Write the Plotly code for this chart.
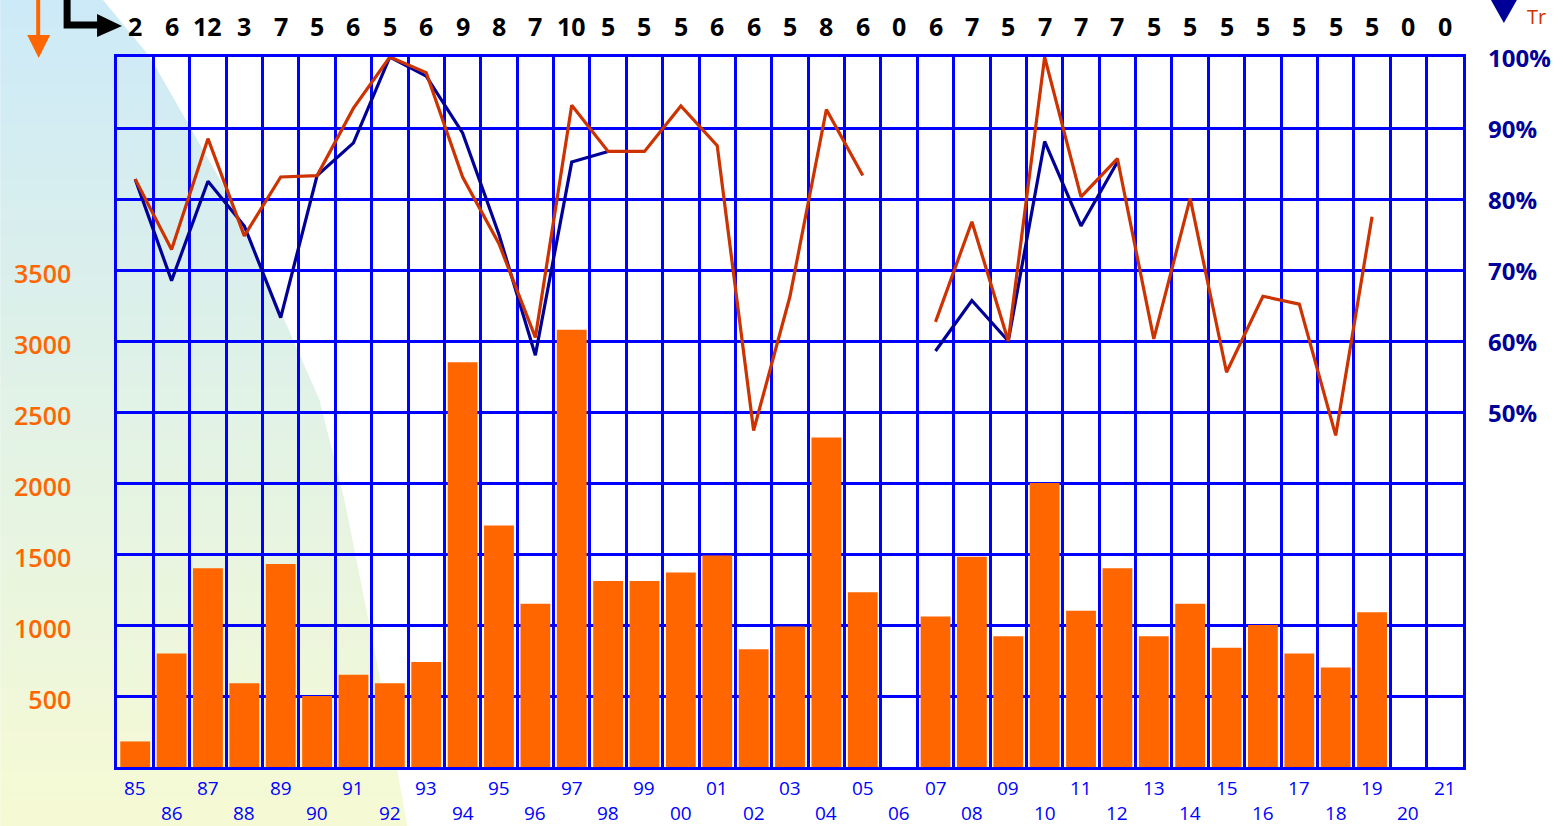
import numpy as np
import plotly.graph_objects as go

# ---------------- data ----------------
years = ["85", "86", "87", "88", "89", "90", "91", "92", "93", "94", "95", "96", "97",
         "98", "99", "00", "01", "02", "03", "04", "05", "06", "07", "08", "09", "10",
         "11", "12", "13", "14", "15", "16", "17", "18", "19", "20", "21"]

counts = [2, 6, 12, 3, 7, 5, 6, 5, 6, 9, 8, 7, 10, 5, 5, 5, 6, 6, 5, 8, 6, 0, 6, 7, 5, 7,
          7, 7, 5, 5, 5, 5, 5, 5, 5, 0, 0]

bar_values = [180, 800, 1400, 590, 1430, 500, 650, 590, 740, 2850, 1700, 1150, 3080,
              1310, 1310, 1370, 1490, 830, 990, 2320, 1230, 0, 1060, 1480, 920, 2000,
              1100, 1400, 920, 1150, 840, 1000, 800, 700, 1090, 0, 0]

red_pct = [82.8, 72.9, 88.5, 74.8, 83.1, 83.3, 92.8, 100, 97.8, 83.1, 73.7, 60.5, 93.2,
           86.7, 86.7, 93.1, 87.5, 47.4, 66.3, 92.6, 83.3, None, 62.7, 76.8, 60.0, 100,
           80.3, 85.7, 60.3, 80.1, 55.6, 66.3, 65.2, 46.7, 77.5, None, None]

blue_pct = [82.8, 68.5, 82.5, 76.2, 63.3, 83.3, 87.9, 100, 97.3, 89.3, 75.0, 58.0, 85.2,
            86.7, None, None, None, None, None, None, None, None, 58.6, 65.7, 60.0, 88.1,
            76.2, 85.2, None, None, None, None, None, None, None, None, None]

left_tick_values = [500, 1000, 1500, 2000, 2500, 3000, 3500]
left_tick_labels = ["500", "1000", "1500", "2000", "2500", "3000", "3500"]
right_tick_values = [50, 60, 70, 80, 90, 100]
right_tick_labels = ["50%", "60%", "70%", "80%", "90%", "100%"]

# ---------------- styling ----------------
W, H = 1563, 826
L, R, T, B = 117, 1466, 57, 767
BLUE_GRID = "#0000ff"
ORANGE = "#ff6600"
RED = "#cc3300"
NAVY = "#000099"
FONT = "Open Sans"


def px_x(px):
    return (px - L) / (R - L)


def px_y(py):
    return (B - py) / (B - T)


fig = go.Figure()

fig.add_trace(go.Bar(
    x=years, y=bar_values, marker=dict(color=ORANGE, line=dict(width=0)),
    width=0.82, yaxis="y", showlegend=False, hoverinfo="x+y"))

fig.add_trace(go.Scatter(
    x=years, y=blue_pct, mode="lines", line=dict(color=NAVY, width=3.2),
    connectgaps=False, yaxis="y2", showlegend=False))

fig.add_trace(go.Scatter(
    x=years, y=red_pct, mode="lines", line=dict(color=RED, width=3.2),
    connectgaps=False, yaxis="y2", showlegend=False))

# ---------------- background gradient region ----------------
shapes = []
bound_y = np.array([0, 57, 200, 400, 500, 600, 700, 826], dtype=float)
bound_x = np.array([103, 150, 232, 320, 345, 365, 385, 408], dtype=float)
top_c = np.array([205, 234, 248])
bot_c = np.array([246, 250, 212])
nb = 60
edges = np.linspace(0, H, nb + 1)
for i in range(nb):
    y0, y1 = edges[i], min(edges[i + 1] + 1.2, H)
    x0 = np.interp(y0, bound_y, bound_x)
    x1 = np.interp(y1, bound_y, bound_x)
    t = (y0 + y1) / 2 / H
    c = top_c + (bot_c - top_c) * t
    col = "rgb(%d,%d,%d)" % tuple(np.round(c))
    path = "M %f,%f L %f,%f L %f,%f L %f,%f Z" % (
        px_x(0), px_y(y0), px_x(x0), px_y(y0), px_x(x1), px_y(y1), px_x(0), px_y(y1))
    shapes.append(dict(type="path", xref="paper", yref="paper", path=path,
                       fillcolor=col, line=dict(width=0), layer="below"))

# orange down arrow (top left)
shapes.append(dict(type="line", xref="paper", yref="paper",
                   x0=px_x(38), y0=px_y(0), x1=px_x(38), y1=px_y(38),
                   line=dict(color=ORANGE, width=4)))
shapes.append(dict(type="path", xref="paper", yref="paper",
                   path="M %f,%f L %f,%f L %f,%f Z" % (px_x(27), px_y(35), px_x(50), px_y(35),
                                                     px_x(38.5), px_y(58)),
                   fillcolor=ORANGE, line=dict(width=0)))
# black L arrow
shapes.append(dict(type="path", xref="paper", yref="paper",
                   path="M %f,%f L %f,%f L %f,%f" % (px_x(67), px_y(0), px_x(67), px_y(25),
                                                   px_x(100), px_y(25)),
                   line=dict(color="black", width=7)))
shapes.append(dict(type="path", xref="paper", yref="paper",
                   path="M %f,%f L %f,%f L %f,%f Z" % (px_x(97), px_y(14), px_x(97), px_y(37),
                                                     px_x(122), px_y(26)),
                   fillcolor="black", line=dict(width=0)))
# navy triangle (top right)
shapes.append(dict(type="path", xref="paper", yref="paper",
                   path="M %f,%f L %f,%f L %f,%f Z" % (px_x(1494), px_y(0), px_x(1520), px_y(0),
                                                     px_x(1507), px_y(23)),
                   fillcolor=NAVY, line=dict(width=0)))

# ---------------- annotations ----------------
annotations = []
for i, c in enumerate(counts):
    annotations.append(dict(x=i, xref="x", y=1, yref="paper", yshift=31,
                            text=str(c), showarrow=False, yanchor="middle",
                            font=dict(family=FONT, size=25, color="black", weight="bold")))
for i, yr in enumerate(years):
    annotations.append(dict(x=i, xref="x", y=0, yref="paper",
                            yshift=-21 if i % 2 == 0 else -46,
                            text=yr, showarrow=False, yanchor="middle",
                            font=dict(family=FONT, size=19, color=BLUE_GRID)))
annotations.append(dict(x=px_x(1528), xref="paper", y=px_y(1), yref="paper",
                        text="Tr", showarrow=False, xanchor="left", yanchor="top",
                        font=dict(family=FONT, size=20, color=RED)))

# ---------------- layout ----------------
grid_vals = list(range(0, 5001, 500))
grid_text = [left_tick_labels[left_tick_values.index(v)] if v in left_tick_values else ""
             for v in grid_vals]

fig.update_layout(
    width=W, height=H,
    margin=dict(l=L, r=W - R, t=T, b=H - B, pad=0),
    paper_bgcolor="white", plot_bgcolor="rgba(0,0,0,0)",
    bargap=0.18,
    xaxis=dict(type="category", categoryorder="array", categoryarray=years,
               range=[-0.5, len(years) - 0.5], tickson="boundaries",
               showgrid=True, gridcolor=BLUE_GRID, gridwidth=2.5,
               showline=True, linecolor=BLUE_GRID, linewidth=2.5, mirror=True,
               showticklabels=False, ticks="", zeroline=False),
    yaxis=dict(range=[0, 5000], tickvals=grid_vals, ticktext=grid_text,
               showgrid=True, gridcolor=BLUE_GRID, gridwidth=2.5,
               showline=True, linecolor=BLUE_GRID, linewidth=2.5, mirror=True,
               zeroline=False, ticks="", ticklabelstandoff=38, ticklabelshift=4,
               tickfont=dict(family=FONT, size=25, color=ORANGE, weight=600)),
    yaxis2=dict(range=[0, 100], overlaying="y", side="right",
                tickvals=right_tick_values, ticktext=right_tick_labels,
                showgrid=False, zeroline=False, ticks="", ticklabelstandoff=24,
                ticklabelshift=2,
                tickfont=dict(family=FONT, size=24, color=NAVY, weight="bold")),
    shapes=shapes,
    annotations=annotations,
    showlegend=False,
)

fig.write_html("out.html", config={"displayModeBar": False},
               post_script="document.body.style.margin='0';document.body.style.overflow='hidden';")
